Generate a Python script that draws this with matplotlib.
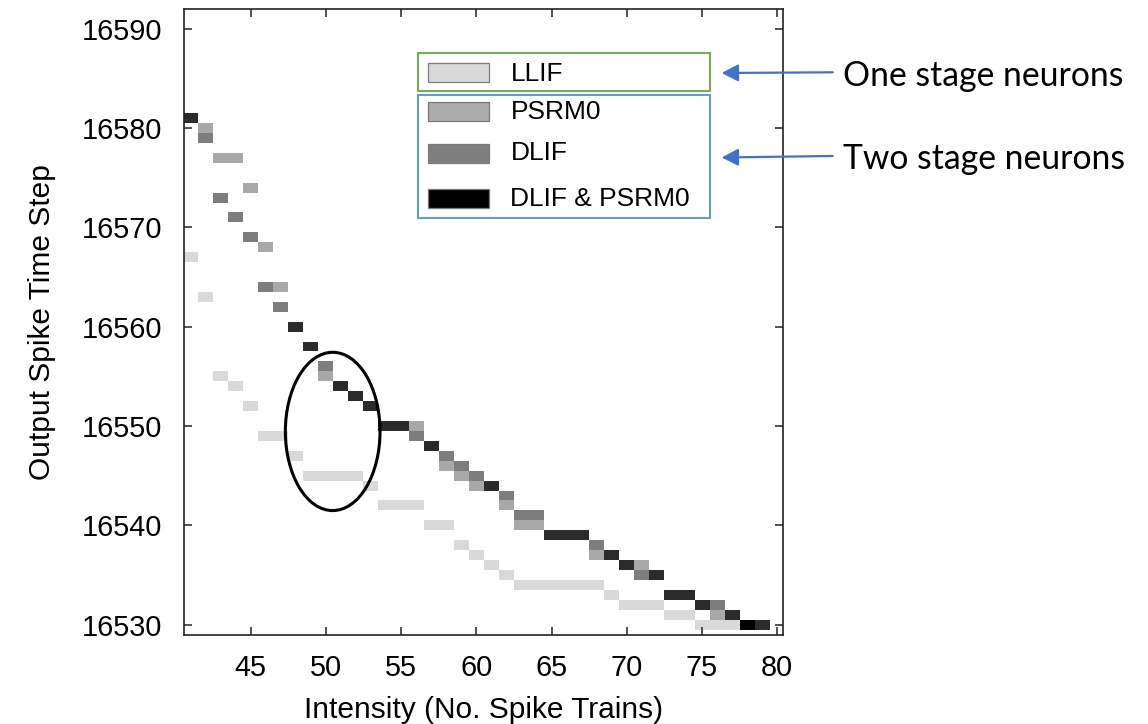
import numpy as np
import matplotlib
matplotlib.use('Agg')
import matplotlib.pyplot as plt
from matplotlib.patches import Rectangle, Ellipse, FancyArrowPatch

# one cell per (intensity, output spike time step), grouped by neuron model
llif_x = [41, 42, 43, 44, 45, 46, 47, 48, 49, 50, 51, 52, 53, 54, 55, 56, 57, 58, 59,
          60, 61, 62, 63, 64, 65, 66, 67, 68, 69, 70, 71, 72, 73, 74, 75, 76, 77]
llif_y = [16567, 16563, 16555, 16554, 16552, 16549, 16549, 16547, 16545, 16545, 16545,
          16545, 16544, 16542, 16542, 16542, 16540, 16540, 16538, 16537, 16536, 16535,
          16534, 16534, 16534, 16534, 16534, 16534, 16533, 16532, 16532, 16532, 16531,
          16531, 16530, 16530, 16530]

psrm0_x = [42, 43, 44, 45, 46, 47, 50, 56, 58, 59, 60, 62, 63, 64, 68, 71, 76]
psrm0_y = [16580, 16577, 16577, 16574, 16568, 16564, 16555, 16550, 16546, 16545, 16544,
           16542, 16540, 16540, 16537, 16536, 16531]

dlif_x = [42, 43, 44, 45, 46, 47, 50, 56, 58, 59, 60, 62, 63, 64, 68, 71, 76]
dlif_y = [16579, 16573, 16571, 16569, 16564, 16562, 16556, 16549, 16547, 16546, 16545,
          16543, 16541, 16541, 16538, 16535, 16532]

both_x = [41, 48, 49, 51, 52, 53, 54, 55, 57, 61, 65, 66, 67, 69, 70, 72, 73, 74, 75, 77, 79]
both_y = [16581, 16560, 16558, 16554, 16553, 16552, 16550, 16550, 16548, 16544, 16539,
          16539, 16539, 16537, 16536, 16535, 16533, 16533, 16532, 16531, 16530]

all_x = [78]
all_y = [16530]

legend_labels = ['LLIF', 'PSRM0', 'DLIF', 'DLIF & PSRM0']
legend_colors = ['#d9d9d9', '#acacac', '#7f7f7f', '#000000']

W, H = 1148, 724
fig = plt.figure(figsize=(W / 100, H / 100), dpi=100)
ax = fig.add_axes([184 / W, 1 - 634.5 / H, 599.3 / W, 625.2 / H])


def px(x, y):
    return x / W, 1 - y / H


series = [(llif_x, llif_y, '#d9d9d9'),
          (psrm0_x, psrm0_y, '#a8a8a8'),
          (dlif_x, dlif_y, '#7d7d7d'),
          (both_x, both_y, '#2b2b2b'),
          (all_x, all_y, '#000000')]
for xs, ys, c in series:
    ax.bar(xs, 1, width=1, bottom=np.array(ys) - 0.5, color=c, linewidth=0)

ax.add_patch(Ellipse((50.46, 16549.45), 6.29, 15.94, fill=False, lw=2.2, ec='black'))

ax.set_xlim(40.58, 80.4)
ax.set_ylim(16529.0, 16591.96)
ax.set_xticks(range(45, 81, 5))
ax.set_yticks(range(16530, 16591, 10))

plt.rcParams['font.family'] = ['Liberation Sans', 'DejaVu Sans']
for lab in ax.get_xticklabels() + ax.get_yticklabels():
    lab.set_fontfamily('Liberation Sans')
    lab.set_fontsize(20.8)
ax.tick_params(axis='both', direction='in', length=6, width=1.1, color='#222222',
               top=True, right=True)
ax.tick_params(axis='y', pad=16)
ax.tick_params(axis='x', pad=14)
for s in ax.spines.values():
    s.set_linewidth(1.2)
    s.set_color('#222222')

ax.set_xlabel('Intensity (No. Spike Trains)', fontsize=21.5, family='Liberation Sans')
ax.set_ylabel('Output Spike Time Step', fontsize=21.5, family='Liberation Sans')
ax.xaxis.label.set_va('center')
ax.xaxis.set_label_coords(0.5, (634.5 - 710) / 625.2)
ax.yaxis.label.set_va('center')
ax.yaxis.set_label_coords(-(184 - 41.7) / 599.3, 0.5)

# legend boxes
fig.add_artist(Rectangle(px(418.3, 90.7), 291.7 / W, 37.4 / H, transform=fig.transFigure,
                         fill=False, ec='#70ad47', lw=1.4))
fig.add_artist(Rectangle(px(418.3, 217.7), 291.7 / W, 122.7 / H, transform=fig.transFigure,
                         fill=False, ec='#5b9bd5', lw=1.4))
sw_top = [63.3, 101.7, 144.0, 189.0]
txt_y = [74.0, 111.7, 153.3, 199.0]
for lab, c, t, ty in zip(legend_labels, legend_colors, sw_top, txt_y):
    fig.add_artist(Rectangle(px(427.7, t + 19), 61.6 / W, 19 / H, transform=fig.transFigure,
                             fc=c, ec='#7a7a7a', lw=0.9))
    fig.text(*px(510.5, ty), lab, fontsize=19, family='Liberation Sans', va='center', ha='left')

# arrows + notes
for y0, y1, note in [(72.3, 73.0, 'One stage neurons'), (156.0, 157.5, 'Two stage neurons')]:
    fig.add_artist(FancyArrowPatch(px(832.7, y0), px(721.7, y1), transform=fig.transFigure,
                                   arrowstyle='-|>,head_length=0.5,head_width=0.26',
                                   mutation_scale=20, color='#4472c4', lw=1.6,
                                   shrinkA=0, shrinkB=0))
    fig.text(*px(843.3, y0 + 13.4), note, fontsize=24.3, family='Lato', va='baseline', ha='left')

fig.savefig('out.png', dpi=100, facecolor='white')
